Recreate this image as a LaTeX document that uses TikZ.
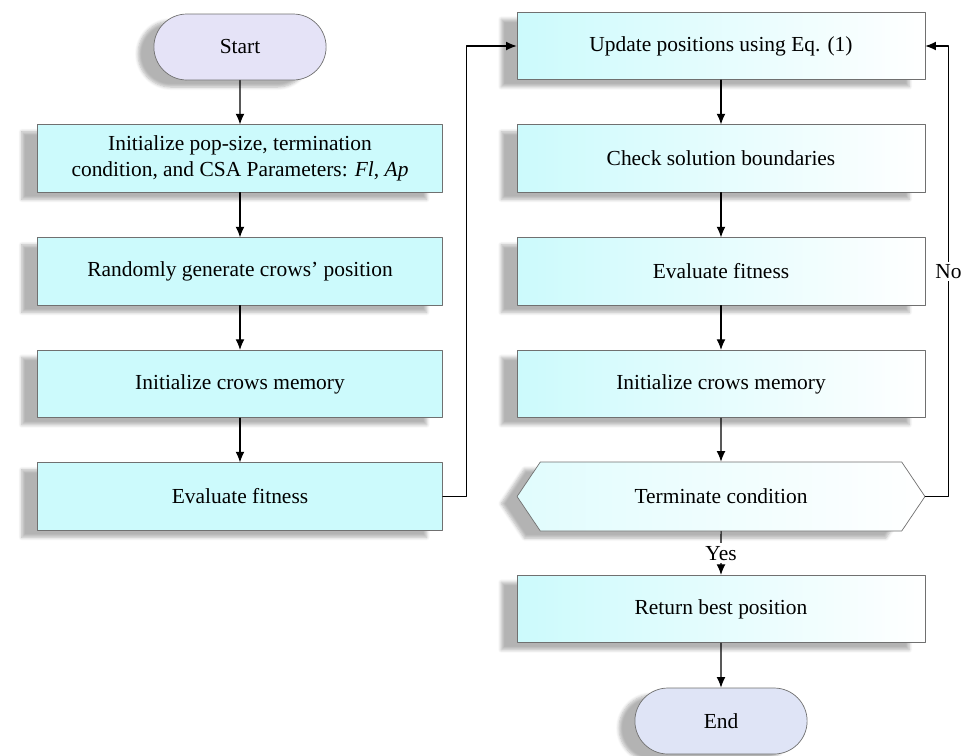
\documentclass[tikz,border=0pt]{standalone}
\usepackage{fontspec}
\setmainfont{Liberation Serif}
\usepackage{tikz}
\usetikzlibrary{
  calc,arrows.meta,positioning,shapes.geometric,shapes.misc,shapes.symbols,
  shadows.blur
}
\definecolor{termfill}{HTML}{E5E3F7}
\definecolor{endfill}{HTML}{DFE4F6}
\definecolor{boxfill}{HTML}{CCFAFC}
\definecolor{boxedge}{HTML}{707070}
\tikzset{
  every node/.style={font=\fontsize{12.2}{14.6}\selectfont},
  shade/.style={blur shadow={shadow xshift=-9pt,shadow yshift=-4pt,
    shadow opacity=30,shadow blur steps=6}},
  terminal/.style={rounded rectangle,draw=boxedge,minimum width=3.68cm,
    minimum height=1.32cm,shade},
  leftbox/.style={rectangle,draw=boxedge,fill=boxfill,minimum width=8.1cm,
    minimum height=1.35cm,align=center,shade},
  rightbox/.style={rectangle,draw=boxedge,left color=boxfill,
    middle color=boxfill!30,right color=white,
    minimum width=8.16cm,minimum height=1.35cm,align=center,shade},
  decision/.style={signal,signal to=west and east,signal pointer angle=112,
    draw=boxedge,left color=boxfill!60,middle color=boxfill!20,
    right color=white,minimum width=8.16cm,minimum height=1.38cm,shade},
  lbl/.style={fill=white,inner sep=1.5pt}
}
\tikzstyle{arrow} = [semithick,-{Latex[length=6pt,width=5pt]}]

\begin{document}
\begin{tikzpicture}[x=0.02cm,y=-0.02cm,line cap=round,line join=round]
  % ---- picture window (pixel grid of the screenshot) ----
  \useasboundingbox (0,0) rectangle (962,755);

  % ---- left column ----
  \node[terminal,fill=termfill] (start) at (240,47) {Start};
  \node[leftbox] (init) at (240,158.5)
    {Initialize pop-size, termination\\condition, and CSA Parameters: \textit{Fl}, \textit{Ap}};
  \node[leftbox] (gen) at (240,271.5) {Randomly generate crows’ position};
  \node[leftbox] (mem) at (240,384) {Initialize crows memory};
  \node[leftbox] (fit) at (240,496.5) {Evaluate fitness};

  % ---- right column ----
  \node[rightbox] (upd) at (721,46) {Update positions using Eq. (1)};
  \node[rightbox] (chk) at (721,158.5) {Check solution boundaries};
  \node[rightbox] (fit2) at (721,271.5) {Evaluate fitness};
  \node[rightbox] (mem2) at (721,384) {Initialize crows memory};
  \node[decision] (term) at (721,496.5) {Terminate condition};
  \node[rightbox] (best) at (721,609) {Return best position};
  \node[terminal,fill=endfill] (end) at (721,721) {End};

  % ---- connectors ----
  \draw[arrow] (start) -- (init);
  \draw[arrow] (init) -- (gen);
  \draw[arrow] (gen) -- (mem);
  \draw[arrow] (mem) -- (fit);
  \draw[arrow] (fit.east) -- ++(24,0) |- (upd.west);

  \draw[arrow] (upd) -- (chk);
  \draw[arrow] (chk) -- (fit2);
  \draw[arrow] (fit2) -- (mem2);
  \draw[arrow] (mem2) -- (term);
  \draw[arrow] (term) -- node[lbl] {Yes} (best);
  \draw[arrow] (best) -- (end);

  % loop back when not finished
  \draw[arrow] (term.east) -- ++(23,0) |- node[lbl,pos=0.25] {No} (upd.east);
\end{tikzpicture}
\end{document}
